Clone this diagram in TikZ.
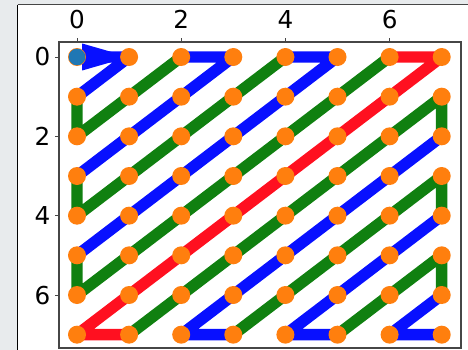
\documentclass[tikz,border=0pt]{standalone}
\usepackage{fontspec}
\setmainfont{DejaVu Sans}
\definecolor{figgray}{RGB}{232,235,237}
\definecolor{framegray}{RGB}{70,70,70}
\definecolor{dotorange}{RGB}{255,127,14}
\definecolor{dotblue}{RGB}{31,119,180}
\definecolor{zzblue}{RGB}{8,16,255}
\definecolor{zzgreen}{RGB}{16,128,16}
\definecolor{zzred}{RGB}{255,16,32}
\tikzset{
  seg/.style={line width=8.6pt, line join=round},
  dot/.style={circle, fill=dotorange, inner sep=0pt, minimum size=13.5pt},
  startdot/.style={circle, fill=dotblue, inner sep=0pt, minimum size=12.5pt},
  ticklbl/.style={font=\fontsize{18.5}{20}\selectfont, inner sep=0pt}
}

\begin{document}
\begin{tikzpicture}[x=0.75pt, y=-0.75pt]

  \useasboundingbox (0,0) rectangle (468,350);
  \fill[figgray] (0,0) rectangle (468,350);
  \fill[white] (17.5,5) rectangle (468,350);
  \draw[framegray, line width=0.8pt] (17.5,4.5) -- (468,4.5);
  \draw[black, line width=1.4pt] (17.5,4.5) -- (17.5,350);

  % axes box, ticks and labels
  \draw[framegray, line width=0.8pt] (59,42) rectangle (461,348);
  \foreach \t in {0,2,4,6} {
    \draw[framegray, line width=0.6pt] (77+52.1*\t,42) -- (77+52.1*\t,37.5);
    \node[ticklbl] (top\t) at (77+52.1*\t,19.5) {\t};
    \draw[framegray, line width=0.6pt] (59,57+39.67*\t) -- (54.5,57+39.67*\t);
    \node[ticklbl, anchor=east] (left\t) at (50.5,57+39.67*\t) {\t};
  }

  \begin{scope}[shift={(77,57)}, x={(39.075pt,0pt)}, y={(0pt,-29.75pt)}]

    \foreach \c in {0,...,7}
      \foreach \r in {0,...,7}
        \coordinate (p\c\r) at (\c,\r);

    % scan path
    \draw[seg, zzblue] (p00) -- (p10) -- (p01);
    \draw[seg, zzgreen] (p01) -- (p02) -- (p20);
    \draw[seg, zzblue] (p20) -- (p30) -- (p03);
    \draw[seg, zzgreen] (p03) -- (p04) -- (p40);
    \draw[seg, zzblue] (p40) -- (p50) -- (p05);
    \draw[seg, zzgreen] (p05) -- (p06) -- (p60);
    \draw[seg, zzred] (p60) -- (p70) -- (p07) -- (p17);
    \draw[seg, zzgreen] (p17) -- (p71) -- (p72);
    \draw[seg, zzblue] (p72) -- (p27) -- (p37);
    \draw[seg, zzgreen] (p37) -- (p73) -- (p74);
    \draw[seg, zzblue] (p74) -- (p47) -- (p57);
    \draw[seg, zzgreen] (p57) -- (p75) -- (p76);
    \draw[seg, zzblue] (p76) -- (p67) -- (p77);

    \fill[zzblue] (0.1,-0.34) -- (p10) -- (0.1,0.34) -- cycle;

    \foreach \c in {0,...,7}
      \foreach \r in {0,...,7}
        \node[dot] (d\c\r) at (p\c\r) {};

    \node[startdot] (start) at (p00) {};

  \end{scope}

\end{tikzpicture}
\end{document}
